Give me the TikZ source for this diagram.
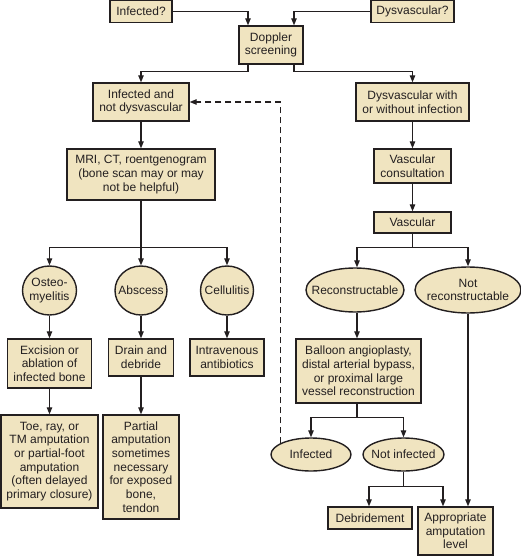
\documentclass[tikz,border=0pt]{standalone}
\usepackage{fontspec}
\setmainfont{Liberation Sans}
\usetikzlibrary{arrows.meta,shapes.geometric,calc}
\definecolor{boxfill}{RGB}{240,228,192}
\definecolor{ink}{RGB}{35,31,32}
\tikzset{
  base/.style={draw=ink, fill=boxfill, line width=1.4pt, inner sep=0pt, align=center,
    font=\fontsize{12}{13.7}\selectfont, text=ink},
  rbox/.style={base, rectangle},
  oval/.style={base, ellipse, inner xsep=-10pt, inner ysep=0pt},
  arr/.style={draw=ink, line width=1.2pt, -{Triangle[length=7pt,width=5.5pt]}},
  ln/.style={draw=ink, line width=1.2pt},
  dsh/.style={arr, dash pattern=on 6pt off 4pt}
}
\begin{document}
\begin{tikzpicture}[x=1pt,y=-1pt]
\useasboundingbox (0,0) rectangle (521,556);
% nodes
\node[rbox, minimum width=62pt, minimum height=22pt] (inq) at (141,11.5) {Infected?};
\node[rbox, minimum width=83pt, minimum height=22pt] (dysq) at (412.5,11.5) {Dysvascular?};
\node[rbox, minimum width=64pt, minimum height=38pt] (dop) at (271,45) {Doppler\\screening};
\node[rbox, minimum width=96pt, minimum height=38pt] (ind) at (141,102) {Infected and\\not dysvascular};
\node[rbox, minimum width=113pt, minimum height=38pt] (dyw) at (412.5,102) {Dysvascular with\\or without infection};
\node[rbox, minimum width=148pt, minimum height=51pt] (mri) at (141,174.5) {MRI, CT, roentgenogram\\(bone scan may or may\\not be helpful)};
\node[rbox, minimum width=77pt, minimum height=34pt] (vc) at (412.5,166) {Vascular\\consultation};
\node[rbox, minimum width=77pt, minimum height=21pt] (vas) at (412.5,222.5) {Vascular};
\node[oval, minimum width=54pt, minimum height=49pt] (ost) at (49.5,290.5) {Osteo-\\myelitis};
\node[oval, minimum width=52pt, minimum height=49pt] (abs) at (141,290.5) {Abscess};
\node[oval, minimum width=53pt, minimum height=49pt] (cel) at (227,290.5) {Cellulitis};
\node[oval, minimum width=98pt, minimum height=44pt] (rec) at (355,290) {Reconstructable};
\node[oval, minimum width=106pt, minimum height=46pt] (nrec) at (468,290) {Not\\reconstructable};
\node[rbox, minimum width=84pt, minimum height=49pt] (exc) at (49.5,363.5) {Excision or\\ablation of\\infected bone};
\node[rbox, minimum width=65pt, minimum height=37pt] (drn) at (141,357.5) {Drain and\\debride};
\node[rbox, minimum width=74pt, minimum height=37pt] (iv) at (227,357.5) {Intravenous\\antibiotics};
\node[rbox, minimum width=125pt, minimum height=64pt] (bal) at (358.5,371) {Balloon angioplasty,\\distal arterial bypass,\\or proximal large\\vessel reconstruction};
\node[rbox, minimum width=97pt, minimum height=93pt] (toe) at (49.5,461.5) {Toe, ray, or\\TM amputation\\or partial-foot\\amputation\\(often delayed\\primary closure)};
\node[rbox, minimum width=76pt, minimum height=104pt] (par) at (141,467) {Partial\\amputation\\sometimes\\necessary\\for exposed\\bone,\\tendon};
\node[oval, minimum width=80pt, minimum height=33pt] (inf) at (311,454.5) {Infected};
\node[oval, minimum width=81pt, minimum height=33pt] (ninf) at (403.5,454.5) {Not infected};
\node[rbox, minimum width=84pt, minimum height=22pt] (deb) at (370,518) {Debridement};
\node[rbox, minimum width=75pt, minimum height=48pt] (app) at (455.5,531) {Appropriate\\amputation\\level};
% connectors
\draw[arr] (inq.east) -| ([xshift=-23pt]dop.north);
\draw[arr] (dysq.west) -| ([xshift=23pt]dop.north);
\draw[arr] ([xshift=-23pt]dop.south) -- ++(0,7) -| (ind.north);
\draw[arr] ([xshift=23pt]dop.south) -- ++(0,7) -| (dyw.north);
\draw[arr] (ind) -- (mri);
\draw[arr] (dyw) -- (vc);
\draw[arr] (vc) -- (vas);
\draw[ln] (mri.south) -- ++(0,47) coordinate (mj);
\draw[arr] (mj) -- (abs.north);
\draw[arr] (mj) -| (ost.north);
\draw[arr] (mj) -| (cel.north);
\draw[ln] (vas.south) -- ++(0,14) coordinate (vj);
\draw[arr] (vj) -| ([xshift=2pt]rec.north);
\draw[arr] (vj) -| (nrec.north);
\draw[arr] ([xshift=2pt]rec.south) -- ([xshift=2pt]rec.south |- bal.north);
\draw[arr] (ost) -- (exc);
\draw[arr] (abs) -- (drn);
\draw[arr] (cel) -- (iv);
\draw[arr] (exc) -- (toe);
\draw[arr] (drn) -- (par);
\draw[ln] ([xshift=-1.5pt]bal.south) -- ++(0,14) coordinate (bj);
\draw[arr] (bj) -| (inf.north);
\draw[arr] (bj) -| (ninf.north);
\draw[ln] (ninf.south) -- ++(0,15) coordinate (nj);
\draw[arr] (nj) -| ([xshift=-1pt]deb.north);
\draw[arr] (nj) -| ([xshift=-12.5pt]app.north);
\draw[arr] (nrec.south) -- (nrec.south |- app.north);
\draw[dsh] (inf.160) |- (ind.east);
\end{tikzpicture}
\end{document}
